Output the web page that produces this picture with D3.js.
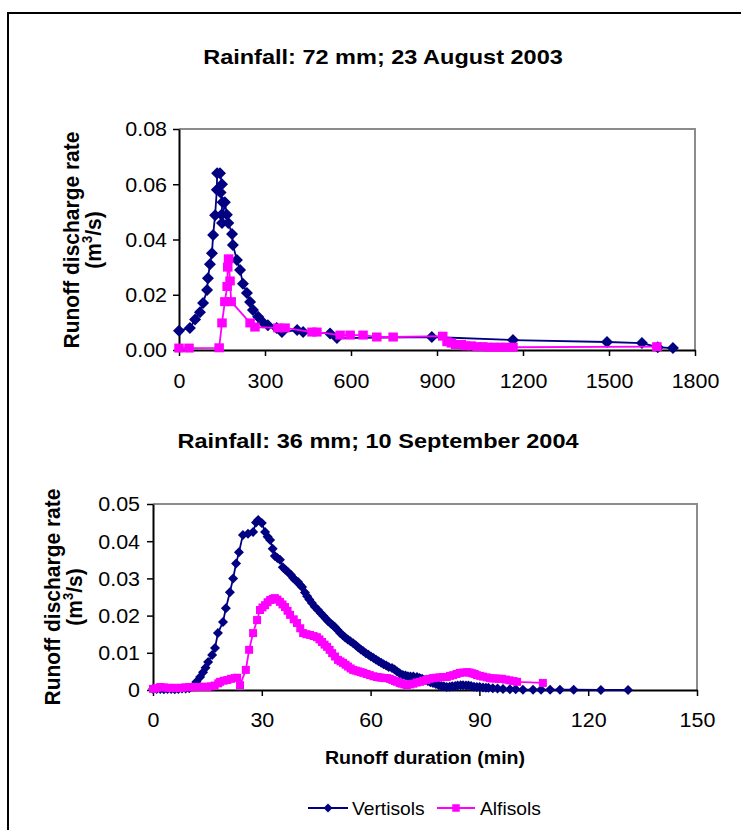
<!DOCTYPE html>
<html><head><meta charset="utf-8">
<script src="https://cdn.jsdelivr.net/npm/d3@7"></script>
<style>body{margin:0;background:#fff} svg{display:block;font-family:"Liberation Sans",Arial,sans-serif}</style>
</head><body><svg id="c" width="741" height="830"></svg>
<script>
// ---------- DATA ----------
const seriesNames = ["Vertisols", "Alfisols"];
const topTitle = "Rainfall: 72 mm; 23 August 2003";
const bottomTitle = "Rainfall: 36 mm; 10 September 2004";
const xAxisTitle = "Runoff duration (min)";
const topXTicks = [0, 300, 600, 900, 1200, 1500, 1800];
const topYTicks = [0, 0.02, 0.04, 0.06, 0.08];
const bottomXTicks = [0, 30, 60, 90, 120, 150];
const bottomYTicks = [0, 0.01, 0.02, 0.03, 0.04, 0.05];

// [time, discharge]
const vertisolsTop = [[0,0.007],[38,0.008],[56,0.011],[73,0.0137],[84,0.017],[98,0.0217],[101,0.026],[108,0.031],[115,0.035],[119,0.0416],[126,0.0488],[132,0.058],[133,0.064],[143,0.064],[150,0.060],[145,0.057],[152,0.0535],[148,0.049],[150,0.046],[160,0.0535],[167,0.049],[172,0.046],[185,0.042],[188,0.038],[202,0.0326],[213,0.029],[223,0.024],[237,0.0206],[248,0.0174],[258,0.0145],[276,0.012],[293,0.010],[310,0.009],[341,0.008],[359,0.0065],[412,0.0072],[433,0.0065],[527,0.006],[551,0.0043],[882,0.0047],[1165,0.0036],[1493,0.0029],[1615,0.0025],[1670,0.001],[1723,0.0007]];
const alfisolsTop = [[0,0.0007],[35,0.0007],[140,0.0008],[150,0.0098],[160,0.0175],[168,0.023],[170,0.030],[173,0.033],[178,0.025],[182,0.0175],[248,0.0098],[265,0.0083],[345,0.008],[370,0.008],[464,0.0065],[481,0.0065],[562,0.0054],[597,0.0054],[642,0.0054],[690,0.0047],[747,0.0047],[920,0.005],[935,0.003],[950,0.0025],[965,0.002],[985,0.002],[1000,0.0015],[1020,0.0015],[1040,0.0012],[1060,0.0012],[1080,0.001],[1100,0.001],[1120,0.001],[1140,0.001],[1165,0.001],[1667,0.0012]];

const vertisolsBottom = [[0,0.0003],[1,0.0003],[2,0.0003],[3,0.0002],[4,0.0003],[5,0.0003],[6,0.0002],[7,0.0003],[8,0.0004],[9,0.0004],[10,0.0005],[11,0.001],[12,0.0022],[13,0.0035],[13.8,0.0048],[14.5,0.006],[15.2,0.0075],[16.3,0.0094],[17.1,0.0113],[17.9,0.0153],[19.3,0.0183],[20.1,0.022],[21.2,0.0263],[22.1,0.030],[22.9,0.034],[23.7,0.037],[24.8,0.0417],[26.2,0.042],[27.6,0.0425],[28.4,0.045],[29,0.0457],[30,0.0449],[30.9,0.0425],[31.6,0.0412],[32.3,0.0403],[33,0.038],[33.6,0.036],[34.3,0.0355],[35,0.035],[35.8,0.033],[36.5,0.0323],[37.2,0.0317],[38,0.031],[38.6,0.0302],[39.2,0.0296],[40,0.029],[40.5,0.0283],[41.1,0.0277],[41.9,0.0262],[42.5,0.0252],[43.1,0.0243],[43.8,0.0234],[44.6,0.0224],[45.5,0.0215],[46.2,0.0207],[47,0.0199],[47.6,0.0192],[48.3,0.0185],[49,0.0179],[49.6,0.0174],[50.2,0.0169],[50.9,0.0161],[51.6,0.0153],[52.3,0.0147],[53,0.0141],[53.7,0.0136],[54.4,0.0131],[55.2,0.0126],[55.9,0.012],[56.6,0.0114],[57.3,0.0109],[58,0.0104],[58.7,0.0099],[59.4,0.0095],[60.1,0.009],[60.8,0.0086],[61.5,0.0081],[62.2,0.0077],[62.9,0.0073],[63.6,0.0069],[64.3,0.0066],[65,0.0062],[65.9,0.0059],[66.6,0.0055],[67.3,0.005],[68,0.0045],[68.9,0.004],[69.6,0.0039],[70.3,0.0037],[71,0.0036],[71.8,0.0036],[72.8,0.0035],[73.5,0.0032],[74.2,0.003],[75,0.0027],[75.8,0.0024],[76.5,0.0021],[77.2,0.0019],[78,0.0016],[78.8,0.0013],[79.5,0.0011],[80.2,0.001],[81,0.0008],[81.8,0.0009],[82.5,0.001],[83.3,0.0011],[84,0.0012],[84.8,0.0013],[85.5,0.0013],[86.3,0.0012],[87,0.0012],[87.7,0.0011],[88.5,0.0009],[89.3,0.0008],[90.1,0.0008],[91,0.0007],[91.8,0.0006],[92.5,0.0006],[93.7,0.0005],[95,0.0004],[96.5,0.0003],[98.4,0.0002],[100,0.0002],[102,0.0001],[104.8,0.0001],[107,0.0001],[109.5,0.0001],[112.2,0.0001],[116,0.0001],[123.5,0],[131,0]];
const alfisolsBottom = [[0,0.0003],[1,0.0005],[2,0.0008],[3,0.0007],[4,0.0006],[5,0.0005],[6,0.0006],[7,0.0005],[8,0.0006],[9,0.0007],[10,0.0008],[11,0.0007],[12,0.0008],[13,0.0008],[14,0.0009],[15,0.0008],[16,0.001],[17,0.0012],[18,0.0018],[18.5,0.0022],[19.5,0.0025],[20.5,0.0027],[21.5,0.003],[22.5,0.0032],[23.2,0.0033],[24,0.0013],[25.6,0.0054],[26.5,0.0108],[27.6,0.0153],[28.7,0.0188],[29.5,0.0215],[30.2,0.0222],[30.9,0.0228],[31.6,0.0236],[32.3,0.0242],[33,0.0245],[33.6,0.0247],[34.3,0.0243],[35,0.0237],[35.7,0.023],[36.4,0.0223],[37.1,0.0213],[37.8,0.0202],[38.8,0.019],[39.7,0.018],[40.6,0.0166],[41.4,0.0153],[42.3,0.015],[43.3,0.0148],[44.3,0.0145],[45.2,0.0142],[45.9,0.0136],[46.6,0.0129],[47.3,0.0122],[48,0.0116],[48.7,0.0108],[49.4,0.0099],[50.2,0.009],[51,0.0081],[51.7,0.0077],[52.4,0.0073],[53.1,0.0068],[53.8,0.0063],[54.5,0.0058],[55.2,0.0054],[55.9,0.0052],[56.6,0.005],[57.3,0.0048],[58,0.0046],[58.9,0.0043],[59.8,0.004],[60.8,0.0037],[61.7,0.0035],[62.4,0.0034],[63,0.0033],[63.8,0.0032],[64.5,0.0032],[65.3,0.003],[66,0.0027],[66.7,0.0024],[67.3,0.0022],[68,0.0019],[68.6,0.0017],[69.3,0.0015],[70,0.0013],[70.9,0.0015],[71.8,0.0017],[72.7,0.002],[73.6,0.0022],[74.5,0.0025],[75.4,0.0027],[76.3,0.003],[77.2,0.0032],[78.1,0.0033],[79,0.0034],[80,0.0035],[81,0.0035],[81.9,0.0038],[82.8,0.004],[83.7,0.0043],[84.6,0.0046],[85.6,0.0047],[86.6,0.0048],[87.3,0.0047],[88,0.0045],[88.7,0.0043],[89.3,0.004],[90.2,0.0038],[91,0.0036],[92,0.0034],[92.9,0.0032],[93.7,0.0031],[94.5,0.0031],[95.4,0.003],[96.2,0.003],[97.3,0.0028],[98.3,0.0026],[99.4,0.0024],[100.4,0.0022],[107.5,0.0019]];

// ---------- DRAW ----------
const NAVY = "#000080", MAG = "#FF00FF";
const svg = d3.select("#c");

svg.append("rect").attr("x", 8).attr("y", 13).attr("width", 780).attr("height", 860)
  .attr("fill", "none").attr("stroke", "#000").attr("stroke-width", 2);

function label(txt, x, y, o) {
  const g = svg.append("g").attr("transform",
    `translate(${x},${y}) scale(${o.sx || 1},1)` + (o.rot ? ` rotate(${o.rot})` : ""));
  const t = g.append("text").attr("text-anchor", o.anchor || "middle")
    .attr("font-size", o.size).attr("font-weight", o.weight || "normal").attr("fill", "#000");
  if (typeof txt === "string") t.text(txt); else txt(t);
  return t;
}

function diamondPath(w, h) { return `M0,${-h}L${w},0L0,${h}L${-w},0Z`; }

const TICK_SIZE = 19.5, TICK_SX = 1.1;

function panel(cfg) {
  const x = d3.scaleLinear().domain(cfg.xDomain).range([cfg.left, cfg.right]);
  const y = d3.scaleLinear().domain(cfg.yDomain).range([cfg.bottom, cfg.top]);
  svg.append("path").attr("d", `M${cfg.left},${cfg.top}H${cfg.right}V${cfg.bottom}`)
    .attr("fill", "none").attr("stroke", "#8c8c8c").attr("stroke-width", 2);

  const gx = svg.append("g").attr("transform", `translate(0,${cfg.bottom})`)
    .call(d3.axisBottom(x).tickValues(cfg.xTicks).tickSize(6).tickSizeOuter(0).tickFormat(d3.format("d")));
  const gy = svg.append("g").attr("transform", `translate(${cfg.left},0)`)
    .call(d3.axisLeft(y).tickValues(cfg.yTicks).tickSize(6).tickSizeOuter(0).tickFormat(cfg.yFmt));
  [gx, gy].forEach(g => {
    g.select(".domain").attr("stroke", "#000").attr("stroke-width", 2);
    g.selectAll(".tick line").attr("stroke", "#000").attr("stroke-width", 1.5);
    g.selectAll(".tick text").attr("font-size", TICK_SIZE).attr("fill", "#000")
      .attr("font-family", '"Liberation Sans",Arial,sans-serif');
  });
  gx.selectAll(".tick text").attr("dy", null).attr("y", 0)
    .attr("transform", `translate(0,${cfg.xLabDy}) scale(${TICK_SX},1)`);
  gy.selectAll(".tick text").attr("x", 0).attr("dy", "0.35em")
    .attr("transform", `translate(${-cfg.yLabGap},0) scale(${TICK_SX},1)`);

  const line = d3.line().x(d => x(d[0])).y(d => y(d[1]));
  svg.append("path").datum(cfg.vert).attr("d", line).attr("fill", "none")
    .attr("stroke", NAVY).attr("stroke-width", 1.8);
  svg.append("g").selectAll("path").data(cfg.vert).join("path")
    .attr("transform", d => `translate(${x(d[0])},${y(d[1])})`)
    .attr("d", diamondPath(cfg.dW, cfg.dH)).attr("fill", NAVY);
  svg.append("path").datum(cfg.alf).attr("d", line).attr("fill", "none")
    .attr("stroke", MAG).attr("stroke-width", 1.8);
  svg.append("g").selectAll("rect").data(cfg.alf).join("rect")
    .attr("x", d => x(d[0]) - cfg.sW / 2).attr("y", d => y(d[1]) - cfg.sH / 2)
    .attr("width", cfg.sW).attr("height", cfg.sH).attr("fill", MAG);

  label("Runoff discharge rate", cfg.yt1x, cfg.ytY, { size: 21, weight: "bold", rot: -90, sx: 1.08 });
  label(t => { t.append("tspan").text("(m");
               t.append("tspan").attr("font-size", 13).attr("dy", -8).text("3");
               t.append("tspan").attr("dy", 8).text("/s)"); },
        cfg.yt2x, cfg.ytY, { size: 21, weight: "bold", rot: -90, sx: 1.08 });
}

label(topTitle, 383, 64, { size: 21, weight: "bold", sx: 1.12 });
panel({ xDomain: [0, 1800], yDomain: [0, 0.08], left: 179, right: 695, top: 129, bottom: 350,
  xTicks: topXTicks, yTicks: topYTicks, yFmt: d3.format(".2f"), xLabDy: 38, yLabGap: 12,
  vert: vertisolsTop, alf: alfisolsTop, dW: 6, dH: 6, sW: 9.5, sH: 9,
  yt1x: 79, yt2x: 101, ytY: 240 });

label(bottomTitle, 378, 448, { size: 21, weight: "bold", sx: 1.12 });
panel({ xDomain: [0, 150], yDomain: [0, 0.05], left: 153, right: 697, top: 504, bottom: 690,
  xTicks: bottomXTicks, yTicks: bottomYTicks, yFmt: d => d === 0 ? "0" : d3.format(".2f")(d), xLabDy: 37, yLabGap: 13,
  vert: vertisolsBottom, alf: alfisolsBottom, dW: 5, dH: 5, sW: 8, sH: 8,
  yt1x: 60, yt2x: 82, ytY: 597 });

label(xAxisTitle, 425, 764, { size: 17.5, weight: "bold", sx: 1.12 });

const lg = svg.append("g");
const legendItems = [
  { name: seriesNames[0], color: NAVY, x1: 308, x2: 348, tx: 352, shape: "d" },
  { name: seriesNames[1], color: MAG, x1: 437, x2: 475, tx: 480, shape: "s" }
];
legendItems.forEach(it => {
  lg.append("line").attr("x1", it.x1).attr("x2", it.x2).attr("y1", 808).attr("y2", 808)
    .attr("stroke", it.color).attr("stroke-width", 1.8);
  const cx = (it.x1 + it.x2) / 2;
  if (it.shape === "d") lg.append("path").attr("transform", `translate(${cx},808)`).attr("d", diamondPath(4.5, 4.5)).attr("fill", it.color);
  else lg.append("rect").attr("x", cx - 3.75).attr("y", 804.25).attr("width", 7.5).attr("height", 7.5).attr("fill", it.color);
  label(it.name, it.tx, 815, { size: 17.5, anchor: "start", sx: 1.1 });
});
</script></body></html>
